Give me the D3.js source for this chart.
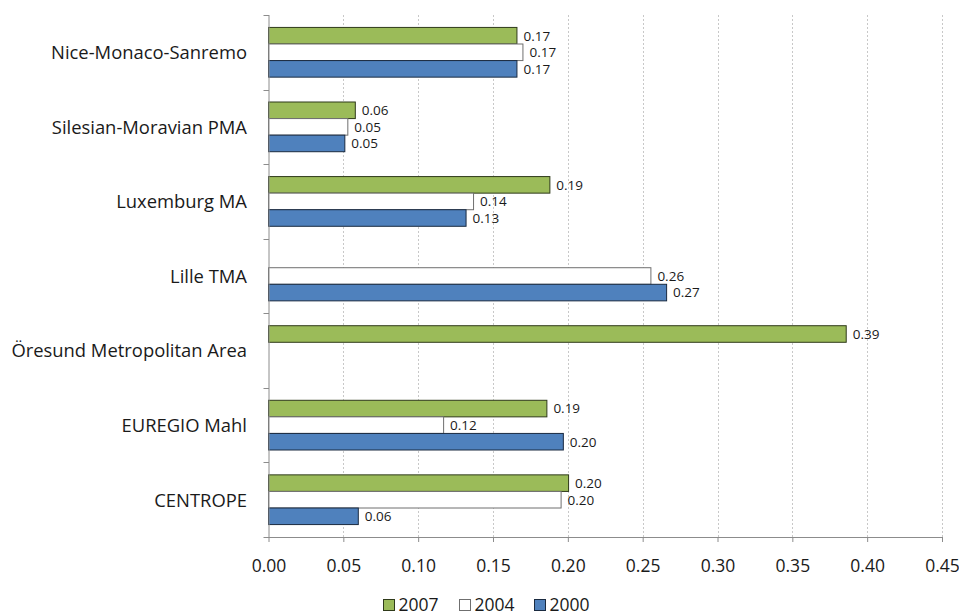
<!DOCTYPE html>
<html>
<head>
<meta charset="utf-8">
<script src="https://cdn.jsdelivr.net/npm/d3@7"></script>
<style>
  html, body { margin: 0; padding: 0; background: #fff; }
  svg { display: block; font-family: "Open Sans", "Noto Sans", sans-serif; }
</style>
</head>
<body>
<svg id="chart" width="959" height="615"></svg>
<script>
// Regions, top to bottom
const categories = [
  "Nice-Monaco-Sanremo",
  "Silesian-Moravian PMA",
  "Luxemburg MA",
  "Lille TMA",
  "Öresund Metropolitan Area",
  "EUREGIO Mahl",
  "CENTROPE"
];

// Series, in the order the bars stack inside each region
const seriesNames = ["2007", "2004", "2000"];

const values2007 = [0.166, 0.058, 0.188, null, 0.386, 0.186, 0.2005];
const values2004 = [0.170, 0.053, 0.137, 0.2555, null, 0.117, 0.1955];
const values2000 = [0.166, 0.051, 0.132, 0.266, null, 0.197, 0.060];

const xTicks = [0, 0.05, 0.10, 0.15, 0.20, 0.25, 0.30, 0.35, 0.40, 0.45];

const fills = { "2007": "#9bbb59", "2004": "#ffffff", "2000": "#4f81bd" };
const strokes = { "2007": "#2f3a1a", "2004": "#6f6f6f", "2000": "#1a2a40" };

const seriesValues = { "2007": values2007, "2004": values2004, "2000": values2000 };

const svg = d3.select("#chart");
const plotLeft = 268.5, plotRight = 942, plotTop = 15, plotBottom = 537;

const x = d3.scaleLinear().domain([0, 0.45]).range([plotLeft, plotRight]);
const y = d3.scaleBand().domain(categories).range([plotTop, plotBottom]).padding(0);

// Group of three bars takes the band minus a 50% gap
const groupH = y.bandwidth() / 1.5;
const yInner = d3.scaleBand().domain(seriesNames)
  .range([(y.bandwidth() - groupH) / 2, (y.bandwidth() + groupH) / 2]);

// Vertical dotted gridlines
svg.append("g")
  .selectAll("line")
  .data(xTicks.filter(t => t > 0))
  .join("line")
  .attr("x1", d => Math.round(x(d)) + 0.5)
  .attr("x2", d => Math.round(x(d)) + 0.5)
  .attr("y1", plotTop)
  .attr("y2", plotBottom)
  .attr("stroke", "#c8c8c8")
  .attr("stroke-width", 1)
  .attr("stroke-dasharray", "2,2");

// Bars
const rows = [];
categories.forEach((c, i) => {
  seriesNames.forEach(s => {
    const v = seriesValues[s][i];
    if (v != null) rows.push({ cat: c, series: s, value: v });
  });
});

const bars = svg.append("g");
bars.selectAll("rect")
  .data(rows)
  .join("rect")
  .attr("x", x(0))
  .attr("y", d => y(d.cat) + yInner(d.series))
  .attr("width", d => x(d.value) - x(0))
  .attr("height", yInner.bandwidth())
  .attr("fill", d => fills[d.series])
  .attr("stroke", d => strokes[d.series])
  .attr("stroke-width", 1);

// Value labels
bars.selectAll("text")
  .data(rows)
  .join("text")
  .attr("x", d => x(d.value) + 6.5)
  .attr("y", d => y(d.cat) + yInner(d.series) + yInner.bandwidth() / 2)
  .attr("dy", "0.36em")
  .attr("font-size", 13.5)
  .attr("fill", "#1a1a1a")
  .text(d => d.value.toFixed(2));

// Axes
const axisColor = "#8c8c8c";
const xAxis = svg.append("g")
  .attr("transform", `translate(0,${plotBottom})`)
  .call(d3.axisBottom(x).tickValues(xTicks).tickFormat(d3.format(".2f")).tickSize(5).tickSizeOuter(0));
xAxis.select(".domain").attr("stroke", axisColor);
xAxis.selectAll(".tick line").attr("stroke", axisColor);
xAxis.selectAll(".tick text")
  .attr("font-size", 17.5)
  .attr("font-family", "'Open Sans', sans-serif")
  .attr("fill", "#1a1a1a")
  .attr("y", 35.3)
  .attr("dy", 0);

const yAxis = svg.append("g")
  .attr("transform", `translate(${plotLeft},0)`);
yAxis.append("line")
  .attr("x1", 0.5).attr("x2", 0.5)
  .attr("y1", plotTop).attr("y2", plotBottom)
  .attr("stroke", axisColor);
yAxis.selectAll("line.tk")
  .data(d3.range(categories.length + 1))
  .join("line")
  .attr("class", "tk")
  .attr("x1", -5).attr("x2", 0.5)
  .attr("y1", i => Math.round(plotTop + i * y.step()) + 0.5)
  .attr("y2", i => Math.round(plotTop + i * y.step()) + 0.5)
  .attr("stroke", axisColor);
yAxis.selectAll("text")
  .data(categories)
  .join("text")
  .attr("x", -21.5)
  .attr("y", d => y(d) + y.bandwidth() / 2)
  .attr("dy", "0.37em")
  .attr("text-anchor", "end")
  .attr("font-size", 18.4)
  .attr("fill", "#1a1a1a")
  .text(d => d);

// Legend
const legend = svg.append("g").attr("transform", "translate(383,605)");
const legendX = [0, 76, 151];
seriesNames.forEach((s, i) => {
  const g = legend.append("g").attr("transform", `translate(${legendX[i]},0)`);
  g.append("rect")
    .attr("x", 0.5).attr("y", -5.5)
    .attr("width", 11).attr("height", 11)
    .attr("fill", fills[s])
    .attr("stroke", strokes[s]);
  g.append("text")
    .attr("x", 15.5)
    .attr("y", 5.5)
    .attr("font-size", 17.5)
    .attr("fill", "#1a1a1a")
    .text(s);
});
</script>
</body>
</html>
